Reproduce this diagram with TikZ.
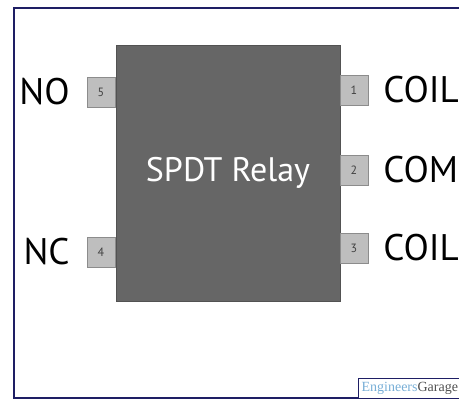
\documentclass[tikz,border=0pt]{standalone}
\usepackage{fontspec}
\setmainfont{PT Sans}
\newfontfamily\logofont{Liberation Serif}
\usetikzlibrary{positioning}
\definecolor{framecolor}{RGB}{30,30,100}
\definecolor{relaygray}{RGB}{102,102,102}
\definecolor{pingray}{RGB}{190,190,190}
\definecolor{pinedge}{RGB}{140,140,140}
\definecolor{logoblue}{RGB}{120,175,215}
\definecolor{logogray}{RGB}{80,80,80}
\tikzset{
  relaybox/.style = {draw=relaygray!80!black, fill=relaygray, minimum width=224pt,
                     minimum height=256pt, inner sep=0pt, text=white,
                     font=\fontsize{34}{34}\selectfont},
  pinbox/.style   = {draw=pinedge, fill=pingray, minimum width=28pt, minimum height=30pt,
                     inner sep=0pt, text=black!75, font=\fontsize{12}{12}\selectfont},
  pinlabel/.style = {inner sep=0pt, font=\fontsize{37}{37}\selectfont},
  logobox/.style  = {draw=framecolor, line width=1.2pt, fill=white, anchor=north west,
                     minimum width=120pt, minimum height=20pt, inner sep=2pt,
                     text width=114pt, align=left},
}
\begin{document}
\begin{tikzpicture}[x=1pt, y=1pt]
  \useasboundingbox (0,0) rectangle (459,404);
  \clip (0,0) rectangle (459,404);
  % outer frame (runs off to the right)
  \draw[framecolor, line width=1.2pt] (14,6) rectangle (480,396);
  % relay body
  \node[relaybox] (relay) at (228,231) {SPDT Relay};
  % pins on the left
  \node[pinbox] (pin5) at (101,312) {5};
  \node[pinbox] (pin4) at (101,152) {4};
  % pins on the right
  \node[pinbox] (pin1) at (354,314) {1};
  \node[pinbox] (pin2) at (354,234) {2};
  \node[pinbox] (pin3) at (354,156) {3};
  % labels
  \node[pinlabel, left=17pt of pin5] (lblNO) {NO};
  \node[pinlabel, left=17pt of pin4] (lblNC) {NC};
  \node[pinlabel, right=15pt of pin1] (lblCOIL1) {COIL};
  \node[pinlabel, right=15pt of pin2] (lblCOM) {COM};
  \node[pinlabel, right=15pt of pin3] (lblCOIL2) {COIL};
  % logo
  \node[logobox] (logo) at (358,26)
    {\logofont\fontsize{14}{14}\selectfont\textcolor{logoblue}{Engineers}\textcolor{logogray}{Garage}};
\end{tikzpicture}
\end{document}
